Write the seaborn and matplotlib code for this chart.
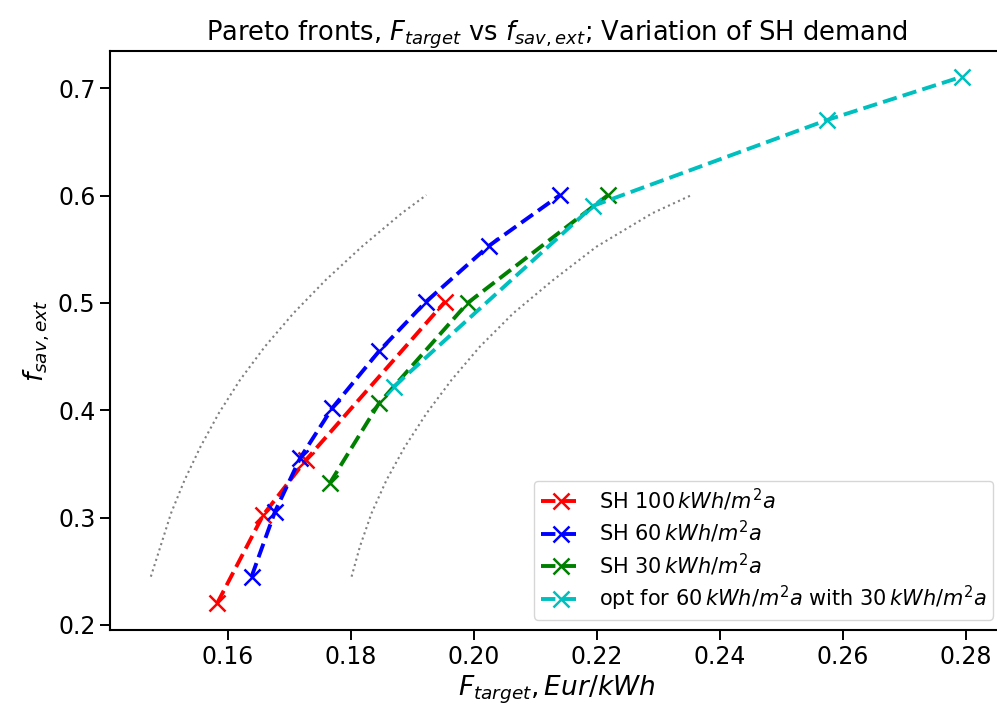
import matplotlib
matplotlib.use('Agg')
import matplotlib.pyplot as plt
import pandas as pd
import seaborn as sns

# Pareto fronts
sh100_x = [0.1583, 0.1658, 0.1727, 0.1953]
sh100_y = [0.220, 0.3025, 0.3535, 0.501]

sh60_x = [0.1639, 0.1677, 0.1718, 0.1770, 0.1846, 0.1922, 0.2024, 0.2140]
sh60_y = [0.245, 0.3055, 0.3555, 0.402, 0.455, 0.501, 0.553, 0.6005]

sh30_x = [0.1766, 0.1846, 0.1990, 0.2218]
sh30_y = [0.332, 0.4065, 0.500, 0.6005]

opt_x = [0.1870, 0.2194, 0.2574, 0.2793]
opt_y = [0.422, 0.5905, 0.6705, 0.7108]

# grey dotted guide curves
guide_left_x = [0.14754, 0.15082, 0.15303, 0.15561, 0.15857, 0.16203, 0.16606,
                0.17070, 0.17595, 0.18182, 0.18830, 0.19230]
guide_left_y = [0.2450, 0.3041, 0.3351, 0.3661, 0.3972, 0.4283, 0.4593,
                0.4904, 0.5214, 0.5525, 0.5836, 0.6006]
guide_right_x = [0.18015, 0.18150, 0.18339, 0.18583, 0.18881, 0.19233, 0.19639,
                 0.20099, 0.20641, 0.21290, 0.21995, 0.22900, 0.23540]
guide_right_y = [0.2450, 0.2730, 0.3041, 0.3351, 0.3661, 0.3972, 0.4283,
                 0.4593, 0.4904, 0.5214, 0.5525, 0.5836, 0.6006]

x_ticks = [0.16, 0.18, 0.20, 0.22, 0.24, 0.26, 0.28]
y_ticks = [0.2, 0.3, 0.4, 0.5, 0.6, 0.7]

labels = [r"SH 100$\,kWh/m^2a$", r"SH 60$\,kWh/m^2a$", r"SH 30$\,kWh/m^2a$",
          r"opt for 60$\,kWh/m^2a$ with 30$\,kWh/m^2a$"]
colors = ['red', 'blue', 'green', 'c']

sns.set_style('ticks')
plt.rcParams['font.family'] = ['DejaVu Sans']
plt.rcParams.update({
    'axes.linewidth': 1.5,
    'axes.edgecolor': 'black',
    'text.color': 'black',
    'axes.labelcolor': 'black',
    'xtick.color': 'black',
    'ytick.color': 'black',
})

fig = plt.figure(figsize=(9.97, 7.15), dpi=100)
ax = fig.add_axes([0.1103, 0.1189, 0.8965, 0.8098])

for gx, gy in [(guide_left_x, guide_left_y), (guide_right_x, guide_right_y)]:
    sns.lineplot(x=gx, y=gy, sort=False, estimator=None, color='gray',
                 linestyle=':', linewidth=1.5, ax=ax)

series = [(sh100_x, sh100_y), (sh60_x, sh60_y), (sh30_x, sh30_y), (opt_x, opt_y)]
for (sx, sy), lab, col in zip(series, labels, colors):
    df = pd.DataFrame({'F_target': sx, 'f_sav': sy})
    sns.lineplot(data=df, x='F_target', y='f_sav', sort=False, estimator=None,
                 color=col, linestyle='--', linewidth=2.8, marker='x',
                 markersize=12, markeredgewidth=1.8, markeredgecolor=col,
                 label=lab, ax=ax)

ax.set_xlim(0.1409, 0.2861)
ax.set_ylim(0.1953, 0.7348)
ax.set_xticks(x_ticks)
ax.set_yticks(y_ticks)
ax.tick_params(labelsize=17, length=7, width=1.4)

ax.set_title(r"Pareto fronts, $F_{target}$ vs $f_{sav,ext}$; Variation of SH demand",
             fontsize=18.5)
ax.set_xlabel(r"$F_{target}, Eur/kWh$", fontsize=19)
ax.set_ylabel(r"$f_{sav,ext}$", fontsize=19)

ax.legend(loc='lower right', fontsize=15, labelspacing=0.3, borderpad=0.3,
          borderaxespad=0.5)

fig.savefig('out.png', dpi=100)
